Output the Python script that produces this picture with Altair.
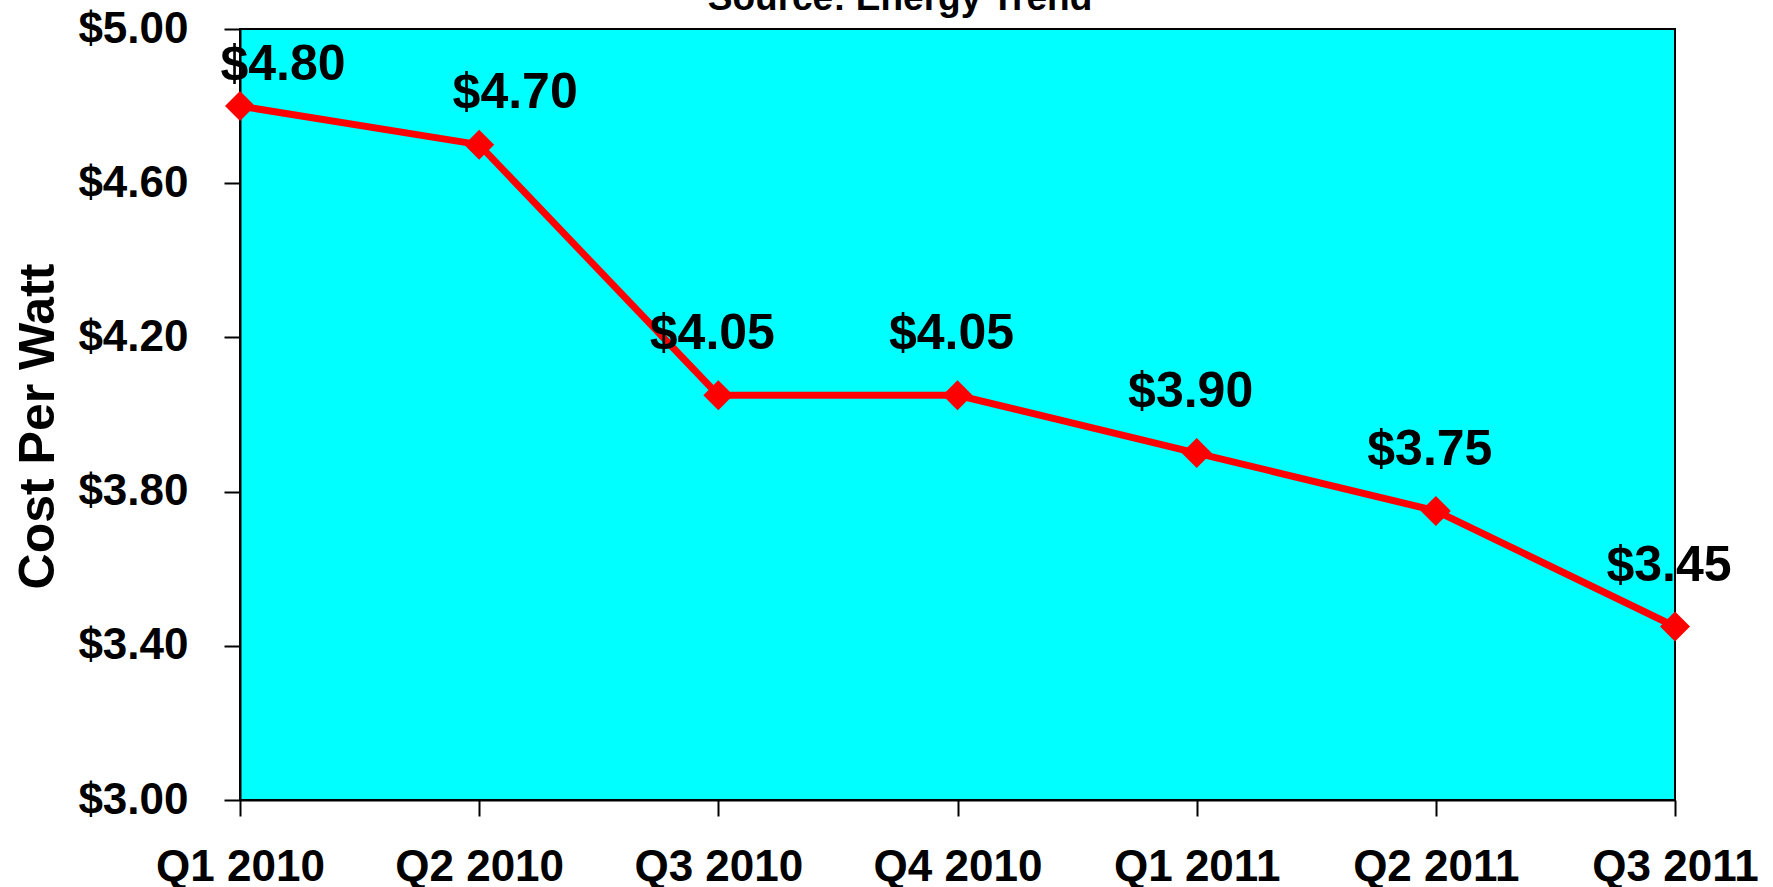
import altair as alt
import pandas as pd

quarters = ["Q1 2010", "Q2 2010", "Q3 2010", "Q4 2010", "Q1 2011", "Q2 2011", "Q3 2011"]
cost = [4.80, 4.70, 4.05, 4.05, 3.90, 3.75, 3.45]
y_ticks = [3.0, 3.4, 3.8, 4.2, 4.6, 5.0]
source_text = ["Source: Energy Trend"]

df = pd.DataFrame({"quarter": quarters, "cost": cost})
FONT = "Liberation Sans"

base = alt.Chart(df).encode(
    x=alt.X(
        "quarter:N",
        sort=quarters,
        scale=alt.Scale(type="point", padding=0),
        axis=alt.Axis(
            title=None,
            labelFont=FONT, labelFontSize=44, labelFontWeight="bold", labelColor="black",
            labelAngle=0, labelPadding=29,
            tickSize=16, tickColor="black", tickWidth=2,
            domainColor="black", domainWidth=2, grid=False,
        ),
    ),
    y=alt.Y(
        "cost:Q",
        scale=alt.Scale(domain=[3, 5], nice=False, zero=False),
        axis=alt.Axis(
            title="Cost Per Watt",
            titleFont=FONT, titleFontSize=50, titleFontWeight="bold", titleColor="black",
            titleAngle=270, titleAlign="center", titleBaseline="alphabetic",
            titleX=-187, titleY=397,
            values=y_ticks, format="$.2f",
            labelFont=FONT, labelFontSize=44, labelFontWeight="bold", labelColor="black",
            labelPadding=36,
            tickSize=16, tickColor="black", tickWidth=2,
            domainColor="black", domainWidth=2, grid=False,
        ),
    ),
)

line = base.mark_line(color="#FF0000", strokeWidth=7)
pts = base.mark_point(shape="diamond", filled=True, size=900, color="#FF0000", opacity=1)


def labels(qs, dx, dy):
    return base.transform_filter(
        alt.FieldOneOfPredicate(field="quarter", oneOf=qs)
    ).mark_text(
        font=FONT, fontSize=50, fontWeight="bold", color="black",
        dx=dx, dy=dy, baseline="alphabetic", align="center",
    ).encode(text=alt.Text("cost:Q", format="$.2f"))


lab1 = labels(quarters[:1], 43, -26)
lab2 = labels(quarters[1:2], 36, -37)
lab_rest = labels(quarters[2:], -6, -46)

title_layer = alt.Chart(pd.DataFrame({"t": source_text})).mark_text(
    font=FONT, fontSize=37, fontWeight="bold", color="black",
    baseline="alphabetic", align="center",
).encode(x=alt.value(660), y=alt.value(-19), text="t:N")

chart = alt.layer(line, pts, lab1, lab2, lab_rest, title_layer).properties(
    width=1435,
    height=771,
    autosize=alt.AutoSizeParams(type="none"),
    padding={"left": 240, "top": 29, "right": 98, "bottom": 87},
    background="white",
).configure_view(fill="#00FFFF", stroke="black", strokeWidth=2)

chart.save("out.html", embed_options={"renderer": "svg", "actions": False})
